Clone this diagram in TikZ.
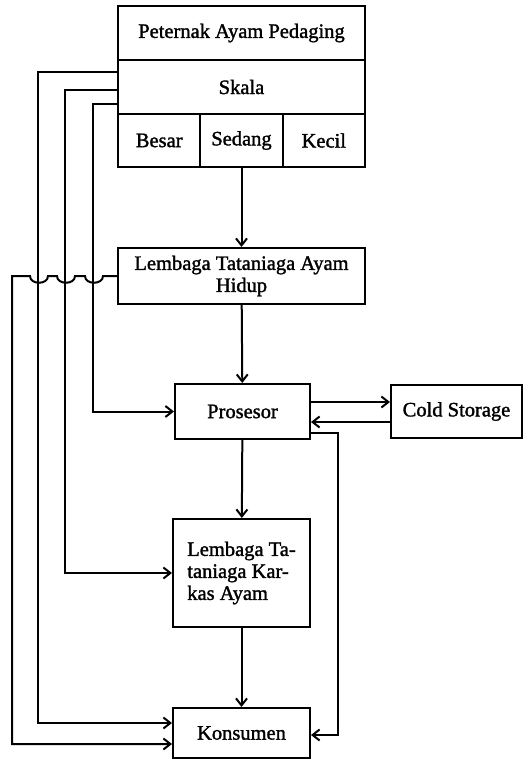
\documentclass[tikz,border=0pt]{standalone}
\usepackage{fontspec}
\setmainfont{Liberation Serif}[RawFeature={embolden=1.5}]
\usetikzlibrary{arrows.meta}

\begin{document}
\begin{tikzpicture}[x=1pt, y=-1pt, line width=2pt,
    font=\fontsize{20.5}{22}\selectfont,
    >={Straight Barb[length=7pt, width=11pt, line width=2pt]},
    box/.style={draw, rectangle, inner sep=2pt, align=center},
    cell/.style={box, minimum width=82.33pt, minimum height=53pt},
    conn/.style={->}]
\useasboundingbox (0,0) rectangle (524,760);
% peternak with its scale rows
\node[box, minimum width=247pt, minimum height=54pt] (peternak) at (241.5,33) {Peternak Ayam Pedaging};
\node[box, minimum width=247pt, minimum height=54pt] (skala) at (241.5,87) {Skala};
\node[cell] (besar) at (159.2,140.5) {Besar};
\node[cell] (sedang) at (241.5,140.5) {Sedang};
\node[cell] (kecil) at (323.8,140.5) {Kecil};
% chain of institutions
\node[box, minimum width=247pt, minimum height=56pt] (ltah) at (241.5,276) {Lembaga Tataniaga Ayam\\Hidup};
\node[box, minimum width=135pt, minimum height=55pt] (pros) at (242.5,411.5) {Prosesor};
\node[box, minimum width=131pt, minimum height=53pt] (cold) at (456.5,411.5) {Cold Storage};
\node[box, align=left, minimum width=137pt, minimum height=108pt] (ltka) at (241.5,573) {Lembaga Ta-\\taniaga Kar-\\kas Ayam};
\node[box, minimum width=137pt, minimum height=50pt] (kons) at (241.5,733) {Konsumen};

\draw[conn] (sedang) -- (ltah);
\draw[conn] (ltah) -- (pros);
\draw[conn] (pros) -- (ltka);
\draw[conn] (ltka) -- (kons);
\draw[conn] ([yshift=9.5pt]pros.east) -- ([yshift=9.5pt]cold.west);
\draw[conn] ([yshift=-10.5pt]cold.west) -- ([yshift=-10.5pt]pros.east);
\draw[conn] ([yshift=-21.5pt]pros.east) -- ++(27,0) |- ([yshift=-2pt]kons.east);

% lines from the skala rows
\draw[conn] ([yshift=15pt]skala.west) -- ++(-79,0) |- ([yshift=10pt]kons.west);
\draw[conn] ([yshift=-3pt]skala.west) -- ++(-52,0) |- (ltka.west);
\draw[conn] ([yshift=-17pt]skala.west) -- ++(-24,0) |- (pros.west);
% line from ltah hopping over the others
\draw[conn] (ltah.west) -- (103,276) .. controls (103,285) and (85,285) .. (85,276)
    -- (75,276) .. controls (75,285) and (57,285) .. (57,276)
    -- (48,276) .. controls (48,285) and (30,285) .. (30,276)
    -- (12,276) |- ([yshift=-11pt]kons.west);
\end{tikzpicture}
\end{document}
